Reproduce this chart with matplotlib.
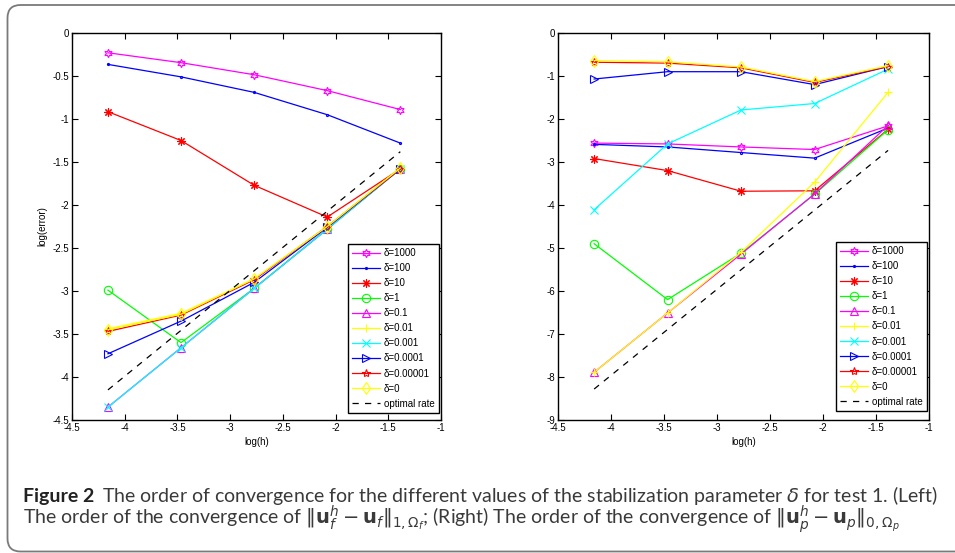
import matplotlib
matplotlib.use('Agg')
import matplotlib.pyplot as plt
import matplotlib.transforms as mtransforms
from matplotlib.path import Path
from matplotlib.patches import PathPatch
from matplotlib.ticker import FormatStrFormatter

plt.rcParams['font.family'] = ['Liberation Sans', 'DejaVu Sans']
plt.rcParams['mathtext.fontset'] = 'dejavusans'

# log(h) for h = 1/64 ... 1/4
logh = [-4.159, -3.466, -2.773, -2.079, -1.386]
opt_x = [-4.159, -1.386]

labels = ['δ=1000', 'δ=100', 'δ=10', 'δ=1', 'δ=0.1', 'δ=0.01', 'δ=0.001',
          'δ=0.0001', 'δ=0.00001', 'δ=0']

# left: ||u_f^h - u_f||_1
left_1000 = [-0.23, -0.345, -0.485, -0.67, -0.89]
left_100 = [-0.365, -0.51, -0.69, -0.95, -1.28]
left_10 = [-0.915, -1.25, -1.77, -2.14, -1.58]
left_1 = [-2.99, -3.60, -2.97, -2.28, -1.58]
left_0_1 = [-4.35, -3.66, -2.97, -2.28, -1.58]
left_0_01 = [-3.44, -3.26, -2.86, -2.25, -1.57]
left_0_001 = [-4.35, -3.66, -2.97, -2.28, -1.58]
left_1e4 = [-3.73, -3.35, -2.90, -2.26, -1.58]
left_1e5 = [-3.47, -3.28, -2.87, -2.25, -1.58]
left_0 = [-3.45, -3.27, -2.86, -2.25, -1.57]
left_opt = [-4.15, -1.38]

# right: ||u_p^h - u_p||_0
right_1000 = [-2.56, -2.58, -2.65, -2.71, -2.16]
right_100 = [-2.59, -2.65, -2.78, -2.91, -2.21]
right_10 = [-2.92, -3.20, -3.68, -3.67, -2.24]
right_1 = [-4.90, -6.20, -5.12, -3.75, -2.25]
right_0_1 = [-7.89, -6.51, -5.14, -3.74, -2.15]
right_0_01 = [-7.89, -6.51, -5.10, -3.47, -1.38]
right_0_001 = [-4.11, -2.58, -1.79, -1.64, -0.84]
right_1e4 = [-1.07, -0.90, -0.90, -1.20, -0.78]
right_1e5 = [-0.68, -0.70, -0.81, -1.15, -0.78]
right_0 = [-0.64, -0.67, -0.79, -1.13, -0.76]
right_opt = [-8.28, -2.73]

styles = [
    ('#ff00ff', (6, 1, 0)),
    ('#0000ff', '.'),
    ('#ff0000', (8, 2, 0)),
    ('#00ff00', 'o'),
    ('#ff00ff', '^'),
    ('#ffff00', '+'),
    ('#00ffff', 'x'),
    ('#0000ff', '>'),
    ('#ff0000', '*'),
    ('#ffff00', 'd'),
]

fig = plt.figure(figsize=(9.55, 5.53), dpi=100)
W, H = 955, 553


def px_axes(x0, x1, y0, y1):
    return fig.add_axes([x0 / W, 1 - y1 / H, (x1 - x0) / W, (y1 - y0) / H])


def draw(ax, series, opt, ymin, yticks, leg_anchor):
    for (c, m), ys, lab in zip(styles, series, labels):
        ms = 3 if m == '.' else 6
        ax.plot(logh, ys, color=c, marker=m, ms=ms, mfc='none', mec=c, mew=0.8,
                lw=0.9, label=lab)
    ax.plot(opt_x, opt, color='black', ls=(0, (5, 5)), lw=0.9, label='optimal rate')
    ax.set_xlim(-4.5, -1)
    ax.set_ylim(ymin, 0)
    ax.set_xticks([-4.5, -4, -3.5, -3, -2.5, -2, -1.5, -1])
    ax.set_yticks(yticks)
    ax.xaxis.set_major_formatter(FormatStrFormatter('%g'))
    ax.yaxis.set_major_formatter(FormatStrFormatter('%g'))
    ax.tick_params(direction='in', top=True, right=True, length=4, width=0.8,
                   labelsize=7, pad=2)
    for s in ax.spines.values():
        s.set_linewidth(1.0)
    ax.set_xlabel('log(h)', fontsize=7, labelpad=3)
    leg = ax.legend(loc='lower right', bbox_to_anchor=leg_anchor, borderaxespad=0,
                    fontsize=7, handlelength=2.9, handletextpad=0.4, labelspacing=0.52,
                    borderpad=0.45, fancybox=False, framealpha=1, edgecolor='black')
    leg.get_frame().set_linewidth(1.0)


axL = px_axes(72, 441, 33, 420)
draw(axL, [left_1000, left_100, left_10, left_1, left_0_1, left_0_01, left_0_001,
           left_1e4, left_1e5, left_0], left_opt, -4.5,
     [-4.5, -4, -3.5, -3, -2.5, -2, -1.5, -1, -0.5, 0], (0.995, 0.018))
axL.set_ylabel('log(error)', fontsize=7, labelpad=4)

axR = px_axes(558, 929, 33, 420)
draw(axR, [right_1000, right_100, right_10, right_1, right_0_1, right_0_01, right_0_001,
           right_1e4, right_1e5, right_0], right_opt, -9,
     [-9, -8, -7, -6, -5, -4, -3, -2, -1, 0], (0.995, 0.023))

# rounded frame on the left, top and bottom (open to the right), in pixels from bottom-left
fx, ftop, fbot, rr = 7.5, 548.0, 1.5, 13.0
verts = [(W + 20, ftop), (fx + rr, ftop), (fx, ftop), (fx, ftop - rr),
         (fx, fbot + rr), (fx, fbot), (fx + rr, fbot), (W + 20, fbot)]
codes = [Path.MOVETO, Path.LINETO, Path.CURVE3, Path.CURVE3,
         Path.LINETO, Path.CURVE3, Path.CURVE3, Path.LINETO]
frame = PathPatch(Path(verts, codes), transform=mtransforms.IdentityTransform(),
                  fill=False, edgecolor='#7a7a7a', lw=1.3)
fig.patches.append(frame)

# caption
cap_font = ['Lato', 'DejaVu Sans']
fs = 14
t1 = fig.text(23 / W, 1 - 502 / H, 'Figure 2', fontsize=fs, fontweight='bold',
              family=cap_font, color='#222222')
fig.canvas.draw()
r = fig.canvas.get_renderer()
bb = t1.get_window_extent(r)
fig.text((bb.x1 + 8) / W, 1 - 502 / H,
         'The order of convergence for the different values of the stabilization '
         r'parameter $\delta$ for test 1. (Left)',
         fontsize=fs, family=cap_font, color='#3a3a3a')
fig.text(23 / W, 1 - 524 / H,
         r'The order of the convergence of $\Vert\mathbf{u}_f^h - \mathbf{u}_f\Vert_{1,\Omega_f}$'
         r'; (Right) The order of the convergence of '
         r'$\Vert\mathbf{u}_p^h - \mathbf{u}_p\Vert_{0,\Omega_p}$',
         fontsize=fs, family=cap_font, color='#3a3a3a')

fig.savefig('out.png', dpi=100)
